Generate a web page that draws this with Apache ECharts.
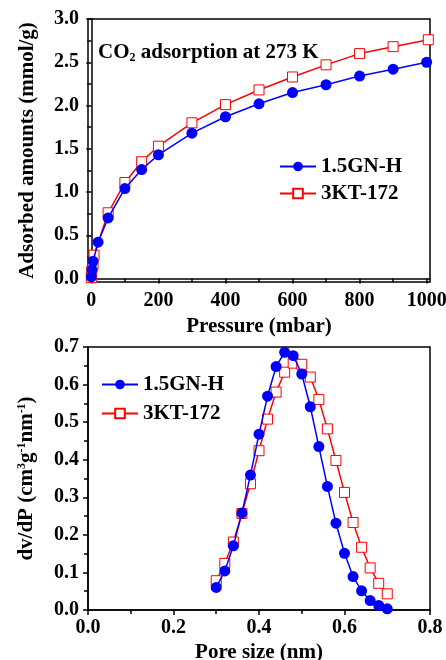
<!DOCTYPE html>
<html lang="en">
<head>
    <meta charset="UTF-8">
    <title>CO2 adsorption</title>
    <script src="https://cdn.jsdelivr.net/npm/echarts@6/dist/echarts.min.js"></script>
</head>
<body style="margin:0;background:#fff;">
<div id="chart" style="width:446px;height:660px;"></div>
<script>
    // top: CO2 isotherm at 273 K
    var pressure_gn = [0, 2, 5, 20, 50, 100, 150, 200, 300, 400, 500, 600, 700, 800, 900, 1000];
    var uptake_gn = [0.02, 0.10, 0.20, 0.42, 0.70, 1.04, 1.26, 1.43, 1.68, 1.87, 2.02, 2.15, 2.24, 2.34, 2.42, 2.50];
    var pressure_kt = [0, 1, 5, 8, 50, 100, 150, 200, 300, 400, 500, 600, 700, 800, 900, 1005];
    var uptake_kt = [0.01, 0.08, 0.16, 0.27, 0.76, 1.11, 1.35, 1.53, 1.80, 2.01, 2.18, 2.33, 2.47, 2.60, 2.68, 2.76];

    // bottom: pore size distribution
    var pore = [0.30, 0.32, 0.34, 0.36, 0.38, 0.40, 0.42, 0.44, 0.46, 0.48, 0.50,
                0.52, 0.54, 0.56, 0.58, 0.60, 0.62, 0.64, 0.66, 0.68, 0.70];
    var psd_gn = [0.060, 0.104, 0.171, 0.258, 0.359, 0.468, 0.569, 0.648, 0.686, 0.677, 0.628,
                  0.541, 0.435, 0.329, 0.231, 0.151, 0.089, 0.051, 0.025, 0.012, 0.003];
    var psd_kt = [0.078, 0.124, 0.181, 0.257, 0.336, 0.424, 0.508, 0.580, 0.633, 0.657, 0.654,
                  0.620, 0.560, 0.482, 0.398, 0.313, 0.233, 0.167, 0.112, 0.071, 0.043];

    var topXLabels = [0, 200, 400, 600, 800, 1000];
    var topXMinor = [100, 300, 500, 700, 900];
    var topYLabels = [0, 0.5, 1.0, 1.5, 2.0, 2.5, 3.0];
    var topYMinor = [0.25, 0.75, 1.25, 1.75, 2.25, 2.75];
    var botXMinor = [0.1, 0.3, 0.5, 0.7];
    var botYMinor = [0.05, 0.15, 0.25, 0.35, 0.45, 0.55, 0.65];

    var FONT = 'Liberation Serif';

    function pairs(xs, ys) {
        var out = [];
        for (var i = 0; i < xs.length; i++) out.push([xs[i], ys[i]]);
        return out;
    }

    var labelStyle = {color: '#000', fontFamily: FONT, fontWeight: 'bold', fontSize: 20};
    var nameStyle = {color: '#000', fontFamily: FONT, fontWeight: 'bold', fontSize: 21};
    var lineStyle = {color: '#000', width: 1.5};

    function blueSeries(x, y, xi, yi) {
        return {
            name: '1.5GN-H', type: 'line', xAxisIndex: xi, yAxisIndex: yi,
            data: pairs(x, y), symbol: 'circle', symbolSize: 11,
            itemStyle: {color: '#0000ff'}, lineStyle: {color: '#0000ff', width: 1.5},
            z: 3
        };
    }
    function redSeries(x, y, xi, yi) {
        return {
            name: '3KT-172', type: 'line', xAxisIndex: xi, yAxisIndex: yi,
            data: pairs(x, y), symbol: 'rect', symbolSize: 10,
            itemStyle: {color: '#fff', borderColor: '#ff0000', borderWidth: 1},
            lineStyle: {color: '#ff0000', width: 1.5},
            z: 2
        };
    }
    // invisible axis carrying only the inward minor ticks
    function minorAxis(grid, min, max, values) {
        return {
            type: 'value', gridIndex: grid, min: min, max: max,
            axisLine: {show: false}, axisLabel: {show: false}, splitLine: {show: false},
            axisTick: {customValues: values, inside: true, length: 4, lineStyle: lineStyle}
        };
    }
    var fix1 = function (v) { return v.toFixed(1); };

    var myChart = echarts.init(document.getElementById('chart'));
    myChart.setOption({
        animation: false,
        backgroundColor: '#fff',
        graphic: [{
            type: 'text', left: 98, top: 42,
            style: {
                text: 'CO{sub|2} adsorption at 273 K',
                fontFamily: FONT, fontWeight: 'bold', fontSize: 21, fill: '#000',
                rich: {sub: {fontFamily: FONT, fontWeight: 'bold', fontSize: 12, fill: '#000', verticalAlign: 'bottom', padding: [10, 0, 0, 0]}}
            }
        }],
        legend: [{
            orient: 'vertical', left: 274, top: 151, itemGap: 6,
            itemWidth: 36, itemHeight: 12,
            textStyle: {color: '#000', fontFamily: FONT, fontWeight: 'bold', fontSize: 21},
            data: ['1.5GN-H', '3KT-172']
        }, {
            orient: 'vertical', left: 96, top: 369, itemGap: 8,
            itemWidth: 36, itemHeight: 12,
            textStyle: {color: '#000', fontFamily: FONT, fontWeight: 'bold', fontSize: 21},
            data: ['1.5GN-H', '3KT-172']
        }],
        grid: [
            {left: 88, right: 16, top: 19, height: 263, show: true, borderColor: '#000', borderWidth: 1.5, outerBoundsMode: 'none'},
            {left: 88, right: 16, top: 347, height: 263, show: true, borderColor: '#000', borderWidth: 1.5, outerBoundsMode: 'none'}
        ],
        xAxis: [{
            type: 'value', gridIndex: 0, min: -10, max: 1010,
            name: 'Pressure (mbar)', nameLocation: 'middle', nameGap: 34, nameTextStyle: nameStyle,
            axisLine: {lineStyle: lineStyle},
            axisTick: {customValues: topXLabels, length: 5, lineStyle: lineStyle},
            axisLabel: {customValues: topXLabels, margin: 9, formatter: function (v) { return String(v); }, textStyle: labelStyle},
            splitLine: {show: false}
        },
            minorAxis(0, -10, 1010, topXMinor),
        {
            type: 'value', gridIndex: 1, min: 0, max: 0.8, interval: 0.2,
            name: 'Pore size (nm)', nameLocation: 'middle', nameGap: 32, nameTextStyle: nameStyle,
            axisLine: {lineStyle: lineStyle},
            axisTick: {length: 5, lineStyle: lineStyle},
            axisLabel: {margin: 8, formatter: fix1, textStyle: labelStyle},
            splitLine: {show: false}
        },
            minorAxis(1, 0, 0.8, botXMinor)
        ],
        yAxis: [{
            type: 'value', gridIndex: 0, min: -0.04, max: 3.0,
            name: 'Adsorbed amounts (mmol/g)', nameLocation: 'middle', nameGap: 50, nameTextStyle: nameStyle,
            axisLine: {lineStyle: lineStyle},
            axisTick: {customValues: topYLabels, length: 5, lineStyle: lineStyle},
            axisLabel: {customValues: topYLabels, margin: 9, formatter: fix1, textStyle: labelStyle},
            splitLine: {show: false}
        },
            minorAxis(0, -0.04, 3.0, topYMinor),
        {
            type: 'value', gridIndex: 1, min: 0, max: 0.7, interval: 0.1,
            name: 'dv/dP (cm{sup|3}g{sup|-1}nm{sup|-1})', nameLocation: 'middle', nameGap: 50,
            nameTextStyle: {
                color: '#000', fontFamily: FONT, fontWeight: 'bold', fontSize: 21,
                rich: {sup: {fontFamily: FONT, fontWeight: 'bold', fontSize: 12, color: '#000', verticalAlign: 'top', padding: [0, 0, 10, 0]}}
            },
            axisLine: {lineStyle: lineStyle},
            axisTick: {length: 5, lineStyle: lineStyle},
            axisLabel: {margin: 9, formatter: fix1, textStyle: labelStyle},
            splitLine: {show: false}
        },
            minorAxis(1, 0, 0.7, botYMinor)
        ],
        series: [
            blueSeries(pressure_gn, uptake_gn, 0, 0),
            redSeries(pressure_kt, uptake_kt, 0, 0),
            blueSeries(pore, psd_gn, 2, 2),
            redSeries(pore, psd_kt, 2, 2)
        ]
    });
</script>
</body>
</html>
